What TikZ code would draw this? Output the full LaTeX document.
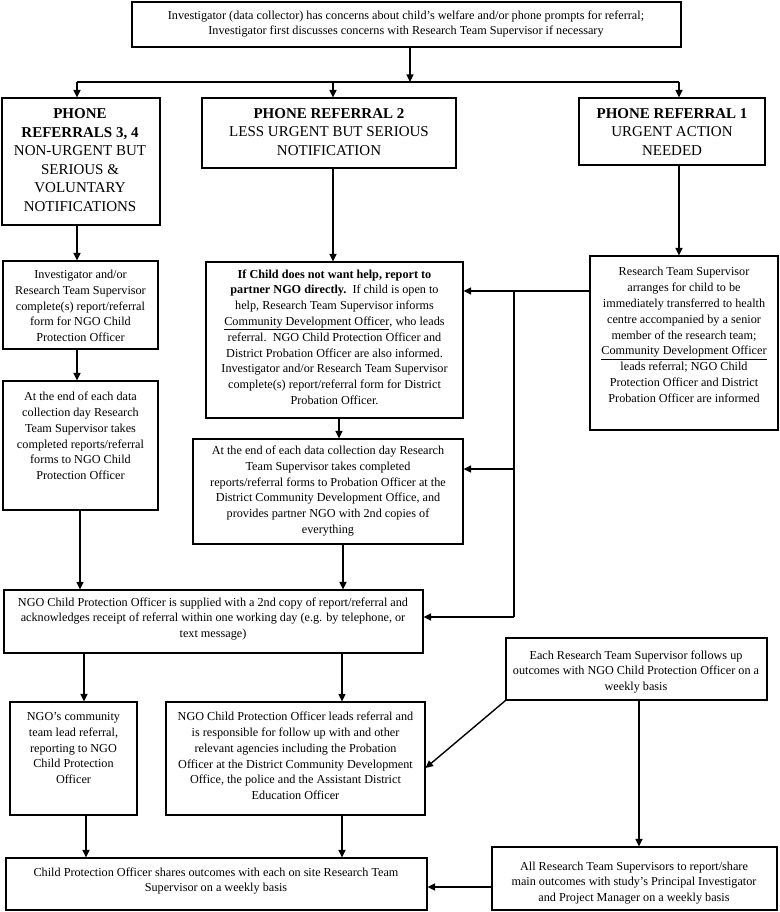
\documentclass[tikz,border=0pt]{standalone}
\usepackage{fontspec}
\setmainfont{Liberation Serif}
\usetikzlibrary{fit,arrows.meta,calc}
\newcommand\mkbox[5]{\node[bx, fit={(#2,#3) (#4,#5)}] (#1) {};}
\begin{document}
\begin{tikzpicture}[x=1pt,y=-1pt,
 bx/.style={draw, line width=1.1pt, inner sep=0pt},
 txt/.style={align=center, inner sep=0pt, font=\fontsize{12.2}{15.8}\selectfont},
 hd/.style={align=center, inner sep=0pt, font=\fontsize{15}{18.5}\selectfont},
 arr/.style={line width=1.4pt, -{Triangle[length=7.5pt,width=7pt]}},
 ln/.style={line width=1.4pt}]
\useasboundingbox (0,0) rectangle (779,912);
% boxes
\mkbox{top}{132}{2}{681}{47}
\mkbox{h3}{2}{98}{160}{225}
\mkbox{h2}{202}{98}{456}{168}
\mkbox{h1}{579}{98}{765}{165}
\mkbox{l2}{3}{261}{158}{349}
\mkbox{l3}{3}{381}{158}{510}
\mkbox{m2}{206}{262}{463}{418}
\mkbox{m3}{193}{439}{463}{544}
\mkbox{r2}{590}{256}{778}{430}
\mkbox{ngo}{4}{590}{423}{653}
\mkbox{nc}{10}{702}{137}{815}
\mkbox{nl}{166}{702}{425}{815}
\mkbox{er}{506}{638}{767}{700}
\mkbox{bl}{6}{858}{427}{910}
\mkbox{br}{492}{847}{777}{910}
% texts
\node[txt] (ttop) at (406,24) {Investigator (data collector) has concerns about child's welfare and/or phone prompts for referral;\\Investigator first discusses concerns with Research Team Supervisor if necessary};
\node[hd] (th3) at (80,160) {\textbf{PHONE}\\\textbf{REFERRALS 3, 4}\\NON-URGENT BUT\\SERIOUS \&\\VOLUNTARY\\NOTIFICATIONS};
\node[hd] (th2) at (329,132) {\textbf{PHONE REFERRAL 2}\\LESS URGENT BUT SERIOUS\\NOTIFICATION};
\node[hd] (th1) at (672,132) {\textbf{PHONE REFERRAL 1}\\URGENT ACTION\\NEEDED};
\node[txt] (tl2) at (80.5,306) {Investigator and/or\\Research Team Supervisor\\complete(s) report/referral\\form for NGO Child\\Protection Officer};
\node[txt] (tl3) at (80.5,436) {At the end of each data\\collection day Research\\Team Supervisor takes\\completed reports/referral\\forms to NGO Child\\Protection Officer};
\node[txt] (tm2) at (334.5,337) {\textbf{If Child does not want help, report to}\\\textbf{partner NGO directly.}\ \ If child is open to\\help, Research Team Supervisor informs\\\underline{Community Development Officer}, who leads\\referral.\ \ NGO Child Protection Officer and\\District Probation Officer are also informed.\\Investigator and/or Research Team Supervisor\\complete(s) report/referral form for District\\Probation Officer.};
\node[txt] (tm3) at (328,491) {At the end of each data collection day Research\\Team Supervisor takes completed\\reports/referral forms to Probation Officer at the\\District Community Development Office, and\\provides partner NGO with 2nd copies of\\everything};
\node[txt] (tr2) at (684,335) {Research Team Supervisor\\arranges for child to be\\immediately transferred to health\\centre accompanied by a senior\\member of the research team;\\\underline{Community Development Officer}\\leads referral; NGO Child\\Protection Officer and District\\Probation Officer are informed};
\node[txt] (tngo) at (213,619) {NGO Child Protection Officer is supplied with a 2nd copy of report/referral and\\acknowledges receipt of referral within one working day (e.g. by telephone, or\\text message)};
\node[txt] (tnc) at (73.5,748) {NGO’s community\\team lead referral,\\reporting to NGO\\Child Protection\\Officer};
\node[txt] (tnl) at (295.5,756) {NGO Child Protection Officer leads referral and\\is responsible for follow up with and other\\relevant agencies including the Probation\\Officer at the District Community Development\\Office, the police and the Assistant District\\Education Officer};
\node[txt] (ter) at (636,672) {Each Research Team Supervisor follows up\\outcomes with NGO Child Protection Officer on a\\weekly basis};
\node[txt] (tbl) at (216,881) {Child Protection Officer shares outcomes with each on site Research Team\\Supervisor on a weekly basis};
\node[txt] (tbr) at (634,883) {All Research Team Supervisors to report/share\\main outcomes with study’s Principal Investigator\\and Project Manager on a weekly basis};
% connectors
\coordinate (j0) at (410,82);
\coordinate (brL) at (77,82);
\coordinate (b2) at (333,82);
\coordinate (brR) at (679,82);
\draw[arr] (top.south -| j0) -- (j0);
\draw[ln] (brL) -- (brR);
\draw[arr] (brL) -- (brL |- h3.north);
\draw[arr] (b2) -- (b2 |- h2.north);
\draw[arr] (brR) -- (brR |- h1.north);
\draw[arr] (h3.south -| brL) -- (l2.north -| brL);
\draw[arr] (l2.south -| brL) -- (l3.north -| brL);
\coordinate (c80) at (80,0);
\draw[arr] (l3.south -| c80) -- (ngo.north -| c80);
\draw[arr] (h2.south -| b2) -- (m2.north -| b2);
\coordinate (c339) at (339,0);
\draw[arr] (m2.south -| c339) -- (m3.north -| c339);
\coordinate (c343) at (343,0);
\draw[arr] (m3.south -| c343) -- (ngo.north -| c343);
\draw[arr] (h1.south -| brR) -- (r2.north -| brR);
\coordinate (J1) at (514,291);
\coordinate (J2) at (514,469);
\coordinate (J3) at (514,617);
\draw[arr] (r2.west |- J1) -- (m2.east |- J1);
\draw[ln] (J1) -- (J3);
\draw[arr] (J2) -- (m3.east |- J2);
\draw[arr] (J3) -- (ngo.east |- J3);
\coordinate (c84) at (84,0);
\coordinate (c342) at (342,0);
\draw[arr] (ngo.south -| c84) -- (nc.north -| c84);
\draw[arr] (ngo.south -| c342) -- (nl.north -| c342);
\coordinate (c86) at (86,0);
\draw[arr] (nc.south -| c86) -- (bl.north -| c86);
\draw[arr] (nl.south -| c342) -- (bl.north -| c342);
\coordinate (dtip) at (0,768);
\draw[arr] (er.south west) -- (nl.east |- dtip);
\coordinate (c639) at (639,0);
\draw[arr] (er.south -| c639) -- (br.north -| c639);
\coordinate (y887) at (0,887);
\draw[arr] (br.west |- y887) -- (bl.east |- y887);
\end{tikzpicture}
\end{document}
